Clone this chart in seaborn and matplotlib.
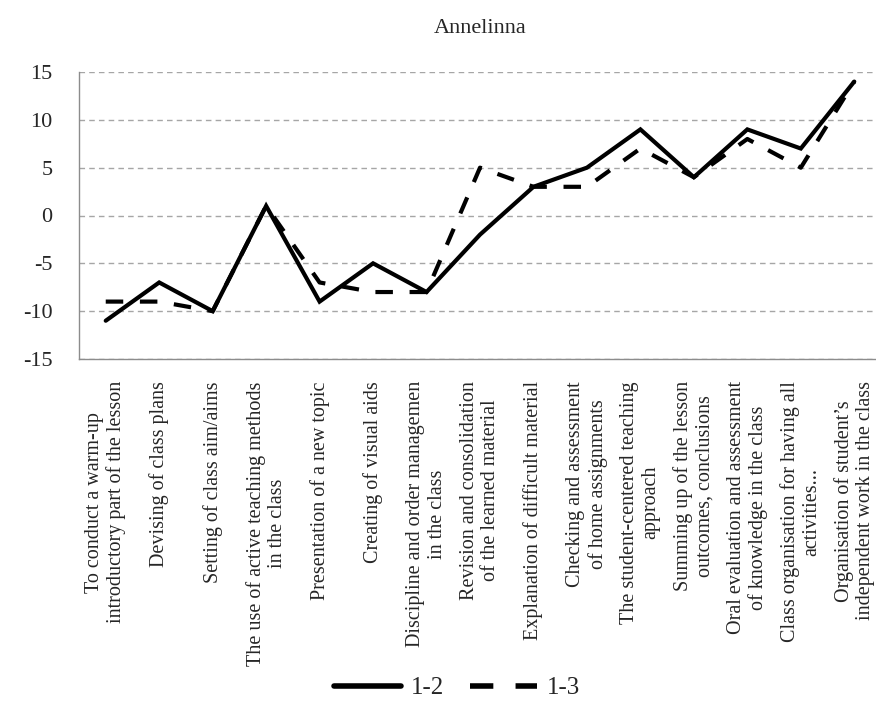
import matplotlib
matplotlib.use("Agg")
import matplotlib.pyplot as plt
from matplotlib.ticker import FixedLocator
import seaborn as sns
import pandas as pd

categories = [
    "To conduct a warm-up\nintroductory part of the lesson",
    "Devising of class plans",
    "Setting of class aim/aims",
    "The use of active teaching methods\nin the class",
    "Presentation of a new topic",
    "Creating of visual aids",
    "Discipline and order managemen\nin the class",
    "Revision and consolidation\nof the learned material",
    "Explanation of difficult material",
    "Checking and assessment\nof home assignments",
    "The student-centered teaching\napproach",
    "Summing up of the lesson\noutcomes, conclusions",
    "Oral evaluation and assessment\nof knowledge in the class",
    "Class organisation for having all\nactivities...",
    "Organisation of student\u2019s\nindependent work in the class",
]
series_12 = [-11, -7, -10, 1, -9, -5, -8, -2, 3, 5, 9, 4, 9, 7, 14]
series_13 = [-9, -9, -10, 1, -7, -8, -8, 5, 3, 3, 7, 4, 8, 5, 14]
series_names = ["1-2", "1-3"]
y_ticks = [-15, -10, -5, 0, 5, 10, 15]
title = "Annelinna"

sns.set_theme(style="white")
plt.rcParams["font.family"] = ["Liberation Serif", "DejaVu Serif"]

rows = []
for name, vals in zip(series_names, [series_12, series_13]):
    for i, v in enumerate(vals):
        rows.append({"pos": i, "value": v, "series": name})
df = pd.DataFrame(rows)

W, H = 876, 712
fig = plt.figure(figsize=(W / 100, H / 100), dpi=100)
ax = fig.add_axes([79 / W, 1 - 359 / H, 802 / W, (359 - 72) / H])

sns.lineplot(
    data=df, x="pos", y="value", style="series", ax=ax,
    color="black", linewidth=3.0,
    dashes={"1-2": "", "1-3": (4.2, 4.0)},
    legend=True,
)
for line in ax.lines:
    line.set_solid_joinstyle("miter")
    line.set_solid_capstyle("round")

handles, labels = ax.get_legend_handles_labels()
ax.get_legend().remove()

ax.set_xlim(-0.5, len(categories) - 0.5)
ax.set_ylim(-15, 15)
ax.set_yticks(y_ticks)
ax.set_yticklabels([str(t) for t in y_ticks])
ax.set_xticks(range(len(categories)))
ax.set_xticklabels(categories, rotation=90, ha="center", va="top",
                   multialignment="center", fontsize=14.5, linespacing=1.15)
ax.xaxis.set_minor_locator(FixedLocator([i + 0.5 for i in range(len(categories) - 1)]))
ax.tick_params(axis="x", which="major", length=0, pad=16)
ax.tick_params(axis="x", which="minor", direction="in", length=6, width=1, color="#8c8c8c")
ax.tick_params(axis="y", which="major", direction="in", length=4, width=1, color="#8c8c8c",
               labelsize=16, pad=19)
ax.set_xlabel("")
ax.set_ylabel("")

ax.yaxis.grid(True, linestyle=(0, (4, 3)), color="#a6a6a6", linewidth=1)
ax.xaxis.grid(False)
ax.set_axisbelow(True)
for side in ["top", "right"]:
    ax.spines[side].set_visible(False)
for side in ["left", "bottom"]:
    ax.spines[side].set_color("#8c8c8c")
    ax.spines[side].set_linewidth(1)

ax.set_title(title, fontsize=16, pad=28)

leg = fig.legend(handles, labels, loc="center", bbox_to_anchor=(457 / W, 1 - 688 / H),
                 ncol=2, frameon=False, fontsize=18, handlelength=2.7,
                 handletextpad=0.4, columnspacing=1.0)
for h in leg.legend_handles:
    h.set_linewidth(4.0)

fig.savefig("out.png", dpi=100)
